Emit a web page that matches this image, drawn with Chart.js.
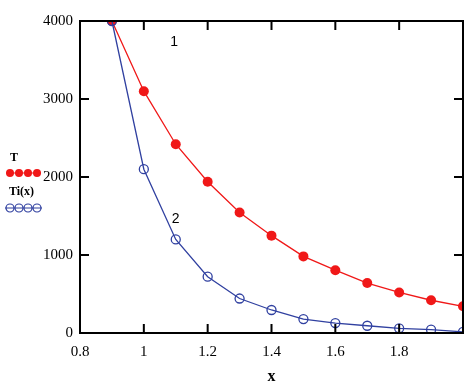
<!DOCTYPE html>
<html>
<head>
<meta charset="utf-8">
<script src="https://cdn.jsdelivr.net/npm/chart.js@4/dist/chart.umd.min.js"></script>
<style>
  body { margin: 0; background: #fff; }
</style>
</head>
<body>
<canvas id="grafico" width="473" height="388"></canvas>
<script>
// datos
const xValues = [0.9, 1.0, 1.1, 1.2, 1.3, 1.4, 1.5, 1.6, 1.7, 1.8, 1.9, 2.0];
const serieT = [4000, 3100, 2420, 1940, 1545, 1248, 982, 805, 640, 520, 420, 342];
const serieTi = [4000, 2100, 1200, 722, 442, 295, 178, 127, 93, 60, 42, 15];
const etiquetasCurvas = [
    { text: '1', x: 1.095, y: 3730 },
    { text: '2', x: 1.1, y: 1460 }
];

const rojo = '#f01818';
const azul = '#3040a0';
const fuenteSerif = "'Liberation Serif', 'Times New Roman', serif";

const puntos = (ys) => xValues.map((x, i) => ({ x: x, y: ys[i] }));

// caja, marcas hacia dentro, etiquetas 1 y 2, leyenda a la izquierda
const marcoPlugin = {
    id: 'marco',
    afterDraw(chart) {
        const ctx = chart.ctx;
        const a = chart.chartArea;
        const sx = chart.scales.x;
        const sy = chart.scales.y;
        const largo = 9;

        ctx.save();
        ctx.strokeStyle = '#000';
        ctx.lineWidth = 2;
        ctx.strokeRect(a.left, a.top, a.right - a.left, a.bottom - a.top);

        ctx.beginPath();
        sx.ticks.forEach(t => {
            const px = sx.getPixelForValue(t.value);
            ctx.moveTo(px, a.bottom); ctx.lineTo(px, a.bottom - largo);
            ctx.moveTo(px, a.top); ctx.lineTo(px, a.top + largo);
        });
        sy.ticks.forEach(t => {
            const py = sy.getPixelForValue(t.value);
            ctx.moveTo(a.left, py); ctx.lineTo(a.left + largo, py);
            ctx.moveTo(a.right, py); ctx.lineTo(a.right - largo, py);
        });
        ctx.stroke();

        // numeros de las curvas
        ctx.fillStyle = '#000';
        ctx.font = "14px 'Liberation Sans', Arial, sans-serif";
        ctx.textAlign = 'center';
        ctx.textBaseline = 'middle';
        etiquetasCurvas.forEach(e => {
            ctx.fillText(e.text, sx.getPixelForValue(e.x), sy.getPixelForValue(e.y));
        });

        // leyenda
        ctx.textAlign = 'left';
        ctx.font = 'bold 12px ' + fuenteSerif;
        ctx.fillText('T', 10, 158);
        ctx.fillText('Ti(x)', 9, 192);

        const xs = [10, 19, 28, 37];
        ctx.lineWidth = 1.2;
        ctx.strokeStyle = rojo;
        ctx.beginPath(); ctx.moveTo(6, 173); ctx.lineTo(41, 173); ctx.stroke();
        ctx.fillStyle = rojo;
        xs.forEach(x => { ctx.beginPath(); ctx.arc(x, 173, 4, 0, Math.PI * 2); ctx.fill(); });

        ctx.strokeStyle = azul;
        ctx.beginPath(); ctx.moveTo(5, 208); ctx.lineTo(42, 208); ctx.stroke();
        xs.forEach(x => { ctx.beginPath(); ctx.arc(x, 208, 4, 0, Math.PI * 2); ctx.stroke(); });
        ctx.restore();
    }
};

const ctx = document.getElementById('grafico').getContext('2d');
new Chart(ctx, {
    type: 'scatter',
    data: {
        datasets: [{
            label: 'T',
            data: puntos(serieT),
            showLine: true,
            borderColor: rojo,
            borderWidth: 1.3,
            backgroundColor: rojo,
            pointRadius: 5,
            pointBorderWidth: 0,
            order: 1,
            clip: 1
        }, {
            label: 'Ti(x)',
            data: puntos(serieTi),
            showLine: true,
            borderColor: azul,
            borderWidth: 1.3,
            backgroundColor: 'rgba(0,0,0,0)',
            pointBorderColor: azul,
            pointBorderWidth: 1.3,
            pointRadius: 4.5,
            order: 0,
            clip: 1
        }]
    },
    options: {
        responsive: false,
        animation: false,
        layout: { padding: { left: 0, top: 21, right: 9, bottom: 0 } },
        scales: {
            x: {
                type: 'linear',
                min: 0.8,
                max: 2,
                afterFit: (s) => { s.height = 55; },
                grid: { display: false, drawTicks: false },
                border: { display: false },
                ticks: {
                    stepSize: 0.2,
                    padding: 10,
                    color: '#000',
                    font: { family: fuenteSerif, size: 15 },
                    maxRotation: 0,
                    callback: (v) => Math.abs(v - 2) < 1e-9 ? '' : String(+v.toFixed(1))
                },
                title: {
                    display: true,
                    text: 'x',
                    color: '#000',
                    font: { family: fuenteSerif, size: 16, weight: 'bold' },
                    padding: { top: 0, bottom: 2 }
                }
            },
            y: {
                min: 0,
                max: 4000,
                afterFit: (s) => { s.width = 80; },
                grid: { display: false, drawTicks: false },
                border: { display: false },
                ticks: {
                    stepSize: 1000,
                    padding: 7,
                    color: '#000',
                    font: { family: fuenteSerif, size: 15 },
                    callback: (v) => String(v)
                }
            }
        },
        plugins: {
            legend: { display: false },
            tooltip: { enabled: false }
        }
    },
    plugins: [marcoPlugin]
});
</script>
</body>
</html>
